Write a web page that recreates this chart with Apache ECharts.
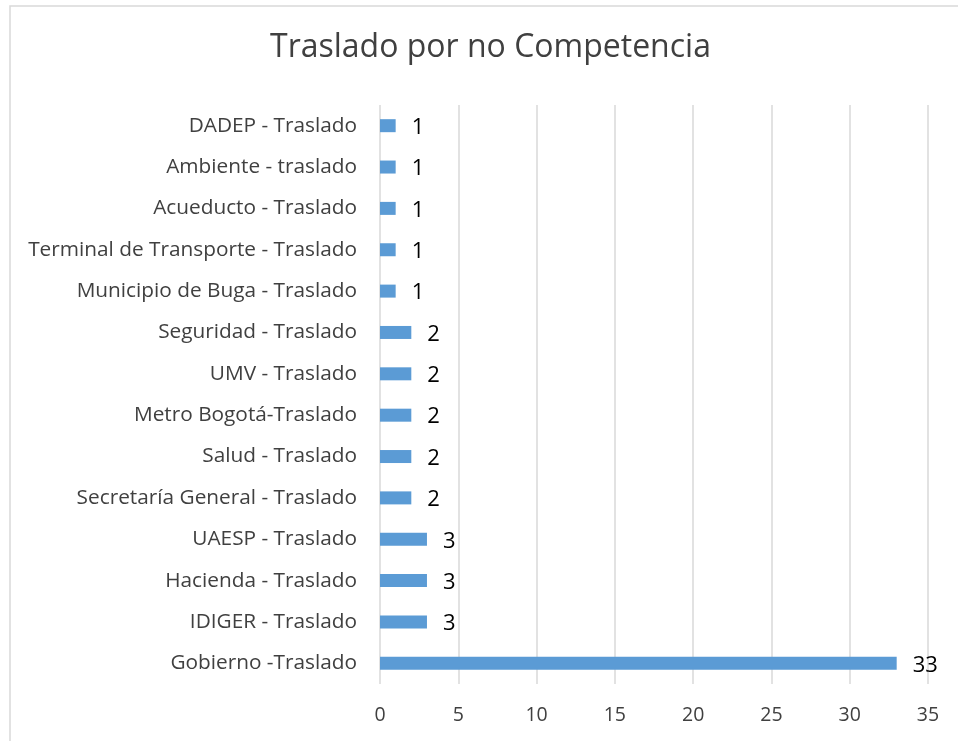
<!DOCTYPE html>
<html>
	<head>
		<meta charset="utf-8">
		<title>Traslado por no Competencia</title>
		<style type="text/css">
			* {
				margin: 0;
				padding: 0;
			}

			#chart {
				width: 958px;
				height: 741px;
				background: #fff;
			}
		</style>
		<script src="https://cdn.jsdelivr.net/npm/echarts@6/dist/echarts.min.js"></script>
	</head>
	<body>
		<div id="chart"></div>
	</body>
	<script type="text/javascript">
		// categorias de arriba hacia abajo
		var categorias = [
			'DADEP - Traslado',
			'Ambiente - traslado',
			'Acueducto - Traslado',
			'Terminal de Transporte - Traslado',
			'Municipio de Buga - Traslado',
			'Seguridad - Traslado',
			'UMV - Traslado',
			'Metro Bogotá-Traslado',
			'Salud - Traslado',
			'Secretaría General - Traslado',
			'UAESP - Traslado',
			'Hacienda - Traslado',
			'IDIGER - Traslado',
			'Gobierno -Traslado'
		];
		var valores = [1, 1, 1, 1, 1, 2, 2, 2, 2, 2, 3, 3, 3, 33];
		var ejeX = { min: 0, max: 35, interval: 5 };

		var fuente = '"Open Sans", "Noto Sans", sans-serif';
		var chart = echarts.init(document.getElementById('chart'));

		var option = {
			backgroundColor: '#fff',
			animation: false,
			title: {
				text: 'Traslado por no Competencia',
				left: 265,
				top: 27,
				textStyle: {
					fontFamily: fuente,
					fontSize: 32,
					fontWeight: 'normal',
					color: '#404040'
				}
			},
			// borde del area del grafico
			graphic: [{
				type: 'rect',
				shape: { x: 10, y: 6, width: 960, height: 760 },
				style: { fill: 'none', stroke: '#d9d9d9', lineWidth: 1.5 },
				silent: true
			}],
			grid: {
				left: 380,
				right: 30,
				top: 105,
				bottom: 57,
				containLabel: false
			},
			xAxis: {
				type: 'value',
				min: ejeX.min,
				max: ejeX.max,
				interval: ejeX.interval,
				axisLine: { show: false },
				axisTick: { show: false },
				axisLabel: {
					margin: 21,
					fontFamily: fuente,
					fontSize: 19.5,
					color: '#404040'
				},
				splitLine: {
					show: true,
					lineStyle: { color: '#d9d9d9', width: 1.5 }
				}
			},
			yAxis: {
				type: 'category',
				inverse: true,
				data: categorias,
				axisLine: { show: false },
				axisTick: { show: false },
				axisLabel: {
					margin: 23,
					fontFamily: fuente,
					fontSize: 20.8,
					color: '#404040'
				}
			},
			series: [{
				name: 'Traslado',
				type: 'bar',
				data: valores,
				barWidth: 13,
				itemStyle: { color: '#5b9bd5' },
				label: {
					show: true,
					position: 'right',
					distance: 16,
					offset: [0, 2],
					fontFamily: fuente,
					fontSize: 22,
					color: '#000'
				}
			}]
		};

		chart.setOption(option);
	</script>
</html>
